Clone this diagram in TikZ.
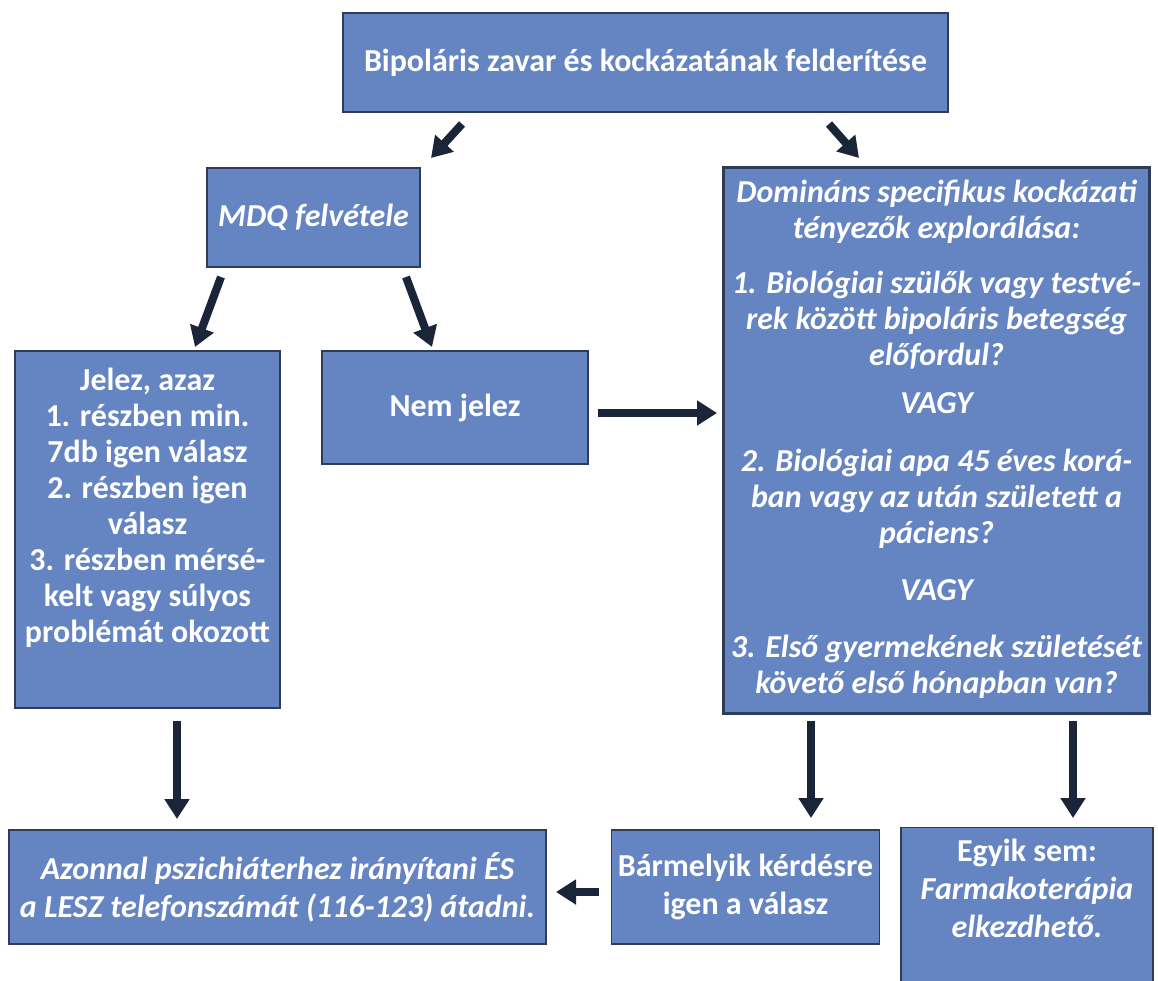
\documentclass[tikz,border=0pt]{standalone}
\usepackage{fontspec}
\setmainfont{Carlito}
\usetikzlibrary{arrows.meta, positioning}
\definecolor{boxfill}{HTML}{6584C2}
\definecolor{boxline}{HTML}{2F3B57}
\definecolor{arrowdark}{HTML}{1B253A}

\begin{document}
\begin{tikzpicture}[x=0.02cm, y=-0.02cm,
    box/.style={draw=boxline, fill=boxfill, line width=0.85pt, inner sep=0pt},
    boxtext/.style={text=white, align=center, inner sep=0pt,
        font=\fontsize{18.2}{20.5}\selectfont\bfseries},
    widetext/.style={boxtext, font=\fontsize{18.2}{21.6}\selectfont\bfseries},
    flow/.style={draw=arrowdark, line width=4.6pt,
        -{Triangle[width=0.48cm, length=0.4cm]}}]
                        \clip (0, 0) rectangle (1158, 980);
                        % boxes
                        \node[box, boxtext, minimum width=12.1cm, minimum height=1.98cm] (goal) at (645.5, 62.5)
                            {Bipoláris zavar és kockázatának felderítése};
                        \node[box, boxtext, minimum width=4.26cm, minimum height=1.98cm] (mdq) at (313.5, 217.5)
                            {\itshape MDQ felvétele};
                        \node[box, line width=1.7pt, minimum width=8.54cm, minimum height=10.94cm] (risk) at (936.5, 440.5) {};
                        \node[box, minimum width=5.3cm, minimum height=7.14cm] (pos) at (147.5, 529.5) {};
                        \node[box, boxtext, minimum width=5.32cm, minimum height=2.26cm] (neg) at (455, 407.5)
                            {Nem jelez};
                        \node[box, widetext, minimum width=10.74cm, minimum height=2.28cm] (refer) at (277.5, 887)
                            {\itshape Azonnal pszichiáterhez irányítani ÉS\\
                             \itshape a LESZ telefonszámát (116-123) átadni.};
                        \node[box, widetext, minimum width=5.36cm, minimum height=2.28cm] (anyyes) at (745.5, 887)
                            {Bármelyik kérdésre\\igen a válasz};
                        \node[box, minimum width=5.04cm, minimum height=3.5cm] (none) at (1027, 915) {};
                        % texts
                        \node[boxtext] (risktext) at (936.5, 439)
                            {\itshape Domináns specifikus kockázati\\
                             \itshape tényezők explorálása:\\[11pt]
                             \itshape 1. Biológiai szülők vagy testvé-\\
                             \itshape rek között bipoláris betegség\\
                             \itshape előfordul?\\[7pt]
                             \itshape VAGY\\[12pt]
                             \itshape 2. Biológiai apa 45 éves korá-\\
                             \itshape ban vagy az után született a\\
                             \itshape páciens?\\[12pt]
                             \itshape VAGY\\[12pt]
                             \itshape 3. Első gyermekének születését\\
                             \itshape követő első hónapban van?};
                        \node[boxtext] (postext) at (147.5, 508)
                            {Jelez, azaz\\1. részben min.\\7db igen válasz\\2. részben igen\\válasz\\
                             3. részben mérsé-\\kelt vagy súlyos\\problémát okozott};
                        \node[widetext] (nonetext) at (1027, 888)
                            {Egyik sem:\\\itshape Farmakoterápia\\\itshape elkezdhető.};
                        % arrow ends
                        \coordinate (g1) at (462, 124);
                        \coordinate (m1) at (431, 158);
                        \coordinate (g2) at (829, 124);
                        \coordinate (r1) at (859, 158);
                        \coordinate (m2) at (221, 277);
                        \coordinate (p1) at (195, 347);
                        \coordinate (m3) at (406, 277);
                        \coordinate (n1) at (432, 347);
                        \coordinate (n2) at (598, 413);
                        \coordinate (r2) at (717, 413);
                        \coordinate (p2) at (177, 721);
                        \coordinate (f1) at (177, 819);
                        \coordinate (r3) at (811, 721);
                        \coordinate (a1) at (811, 818);
                        \coordinate (r4) at (1073, 721);
                        \coordinate (e1) at (1073, 818);
                        \coordinate (a2) at (599, 892);
                        \coordinate (f2) at (556, 892);
                        \draw[flow] (g1) -- (m1);
                        \draw[flow] (g2) -- (r1);
                        \draw[flow] (m2) -- (p1);
                        \draw[flow] (m3) -- (n1);
                        \draw[flow] (n2) -- (r2);
                        \draw[flow] (p2) -- (f1);
                        \draw[flow] (r3) -- (a1);
                        \draw[flow] (r4) -- (e1);
                        \draw[flow] (a2) -- (f2);
                    \end{tikzpicture}
\end{document}
